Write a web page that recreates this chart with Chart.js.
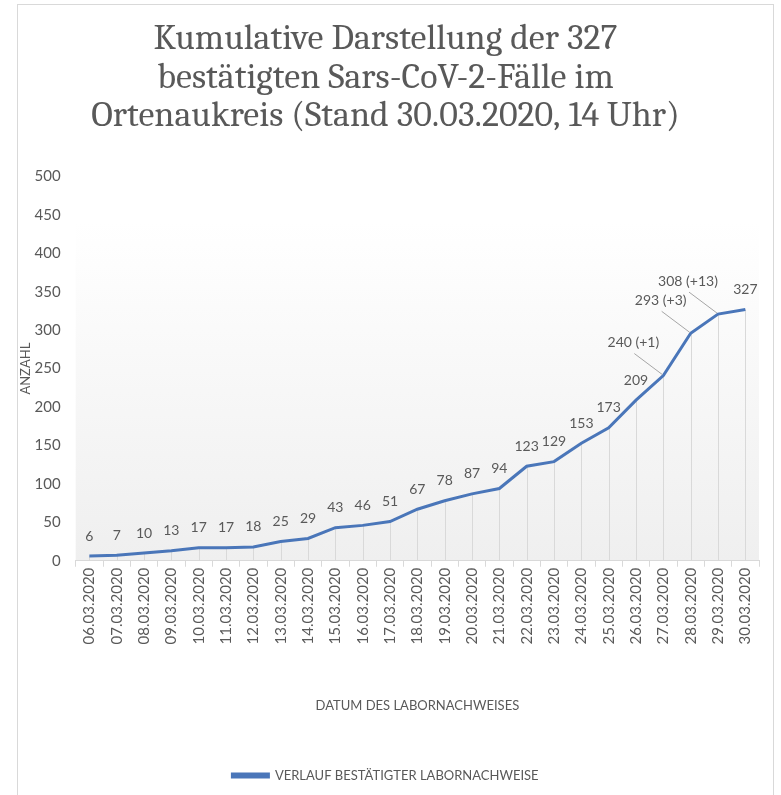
<!DOCTYPE html>
<html>
<head>
<meta charset="utf-8">
<script src="https://cdn.jsdelivr.net/npm/chart.js@4.4.1/dist/chart.umd.min.js"></script>
<style>
  html, body { margin: 0; padding: 0; background: #fff; }
  #wrap { position: relative; width: 781px; height: 795px; overflow: hidden; }
  #frame { position: absolute; left: 17px; top: 4px; width: 755px; height: 820px;
           border: 1px solid #d9d9d9; pointer-events: none; }
</style>
</head>
<body>
<div id="wrap">
  <canvas id="covidChart" width="781" height="795"></canvas>
  <div id="frame"></div>
</div>
<script>
const dates = ['06.03.2020', '07.03.2020', '08.03.2020', '09.03.2020', '10.03.2020',
    '11.03.2020', '12.03.2020', '13.03.2020', '14.03.2020', '15.03.2020', '16.03.2020',
    '17.03.2020', '18.03.2020', '19.03.2020', '20.03.2020', '21.03.2020', '22.03.2020',
    '23.03.2020', '24.03.2020', '25.03.2020', '26.03.2020', '27.03.2020', '28.03.2020',
    '29.03.2020', '30.03.2020'];
// reported count per day as printed in the label
const reported = [6, 7, 10, 13, 17, 17, 18, 25, 29, 43, 46, 51, 67, 78, 87, 94,
    123, 129, 153, 173, 209, 240, 293, 308, 327];
// late reports added afterwards (the "(+n)" in the label)
const lateReports = [0, 0, 0, 0, 0, 0, 0, 0, 0, 0, 0, 0, 0, 0, 0, 0,
    0, 0, 0, 0, 0, 1, 3, 13, 0];
const yTicks = [0, 50, 100, 150, 200, 250, 300, 350, 400, 450, 500];

const plotted = reported.map((v, i) => v + lateReports[i]);
const labelTexts = reported.map((v, i) => lateReports[i] ? v + ' (+' + lateReports[i] + ')' : String(v));

const textColor = '#595959';
const lineColor = '#4a76b9';
const sans = 'Lato, "Open Sans", sans-serif';

Chart.defaults.font.family = sans;
Chart.defaults.color = textColor;

// gradient fill behind the plot area
const plotBackground = {
    id: 'plotBackground',
    beforeDraw(chart) {
        const { ctx, chartArea: a } = chart;
        const g = ctx.createLinearGradient(0, a.top, 0, a.bottom);
        g.addColorStop(0, '#ffffff');
        g.addColorStop(0.12, '#ffffff');
        g.addColorStop(1, '#efefef');
        ctx.save();
        ctx.fillStyle = g;
        ctx.fillRect(a.left, a.top, a.right - a.left, a.bottom - a.top);
        ctx.restore();
    }
};

// thin drop lines from each point down to the axis
const dropLines = {
    id: 'dropLines',
    beforeDatasetsDraw(chart) {
        const { ctx, chartArea: a } = chart;
        const meta = chart.getDatasetMeta(0);
        ctx.save();
        ctx.strokeStyle = '#d9d9d9';
        ctx.lineWidth = 1;
        meta.data.forEach(pt => {
            const x = Math.round(pt.x) + 0.5;
            ctx.beginPath();
            ctx.moveTo(x, pt.y);
            ctx.lineTo(x, a.bottom);
            ctx.stroke();
        });
        ctx.restore();
    }
};

// value labels, with leader lines where late reports were added
const valueLabels = {
    id: 'valueLabels',
    afterDatasetsDraw(chart) {
        const { ctx } = chart;
        const meta = chart.getDatasetMeta(0);
        ctx.save();
        ctx.font = '14px ' + sans;
        ctx.fillStyle = textColor;
        ctx.textAlign = 'center';
        ctx.textBaseline = 'middle';
        meta.data.forEach((pt, i) => {
            if (lateReports[i]) {
                const lx = pt.x - 30, ly = pt.y - 33;
                ctx.strokeStyle = '#a6a6a6';
                ctx.lineWidth = 1;
                ctx.beginPath();
                ctx.moveTo(lx + 1, ly + 11);
                ctx.lineTo(pt.x - 1, pt.y - 1);
                ctx.stroke();
                ctx.fillText(labelTexts[i], lx, ly);
            } else {
                ctx.fillText(labelTexts[i], pt.x, pt.y - 20);
            }
        });
        ctx.restore();
    }
};

const ctx = document.getElementById('covidChart').getContext('2d');
new Chart(ctx, {
    type: 'line',
    data: {
        labels: dates,
        datasets: [{
            label: 'VERLAUF BESTÄTIGTER LABORNACHWEISE',
            data: plotted,
            borderColor: lineColor,
            backgroundColor: lineColor,
            borderWidth: 3,
            pointRadius: 0,
            tension: 0,
        }],
    },
    options: {
        responsive: false,
        animation: false,
        layout: { padding: { left: 12, right: 22, top: 20, bottom: 3 } },
        plugins: {
            title: {
                display: true,
                text: ['Kumulative Darstellung der 327',
                       'bestätigten Sars-CoV-2-Fälle im',
                       'Ortenaukreis (Stand 30.03.2020, 14 Uhr)'],
                font: { family: 'Cambria, "Liberation Serif", serif', size: 36, weight: 'normal', lineHeight: 1.07 },
                color: textColor,
                padding: { top: 0, bottom: 41 },
            },
            legend: {
                position: 'bottom',
                labels: {
                    boxWidth: 36,
                    boxHeight: 3,
                    padding: 10,
                    font: { size: 13 },
                    color: textColor,
                },
            },
            tooltip: { enabled: false },
        },
        scales: {
            x: {
                offset: true,
                grid: { drawOnChartArea: false, color: '#d9d9d9', tickLength: 6, offset: true },
                border: { color: '#d9d9d9' },
                ticks: { maxRotation: 90, minRotation: 90, font: { size: 15 }, color: textColor, padding: 1 },
                title: {
                    display: true,
                    text: 'DATUM DES LABORNACHWEISES',
                    font: { size: 13 },
                    color: textColor,
                    padding: { top: 53, bottom: 45 },
                },
            },
            y: {
                min: 0,
                max: 500,
                afterBuildTicks(axis) { axis.ticks = yTicks.map(v => ({ value: v })); },
                grid: { display: false, tickLength: 14 },
                border: { display: false },
                ticks: { font: { size: 15 }, color: textColor, padding: 1 },
                title: {
                    display: true,
                    text: 'ANZAHL',
                    font: { size: 13 },
                    color: textColor,
                    padding: { top: 6, bottom: 0 },
                },
            },
        },
    },
    plugins: [plotBackground, dropLines, valueLabels],
});
</script>
</body>
</html>
